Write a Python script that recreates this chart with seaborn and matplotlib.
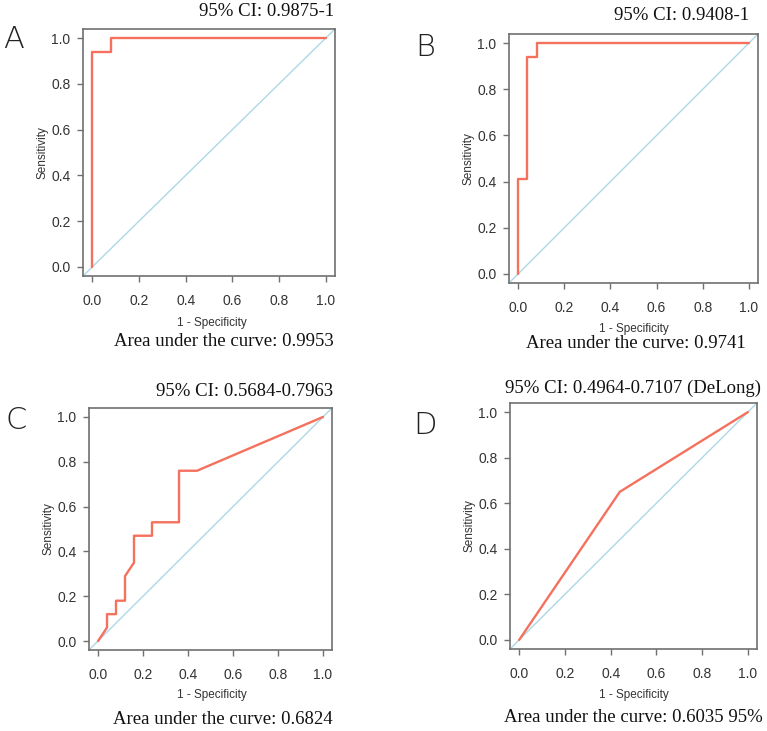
import matplotlib
matplotlib.use("Agg")
import matplotlib.pyplot as plt
import numpy as np
import pandas as pd
import seaborn as sns

sns.set_theme(style="white")
plt.rcParams['font.family'] = ['Liberation Sans', 'DejaVu Sans']

# ROC curves (1 - specificity, sensitivity)
fpr_a = [0.0, 0.0, 0.08, 0.08, 1.0]
tpr_a = [0.0, 0.94, 0.94, 1.0, 1.0]

fpr_b = [0.0, 0.0, 0.04, 0.04, 0.08, 0.08, 1.0]
tpr_b = [0.0, 0.41, 0.41, 0.94, 0.94, 1.0, 1.0]

fpr_c = [0.0, 0.04, 0.04, 0.08, 0.08, 0.12, 0.12, 0.16, 0.16, 0.24, 0.24, 0.36, 0.36, 0.44, 1.0]
tpr_c = [0.0, 0.06, 0.12, 0.12, 0.18, 0.18, 0.29, 0.35, 0.47, 0.47, 0.53, 0.53, 0.76, 0.76, 1.0]

fpr_d = [0.0, 0.44, 1.0]
tpr_d = [0.0, 0.65, 1.0]

letters = ['A', 'B', 'C', 'D']
ci_labels = ['95% CI: 0.9875-1', '95% CI: 0.9408-1', '95% CI: 0.5684-0.7963',
             '95% CI: 0.4964-0.7107 (DeLong)']
auc_labels = ['Area under the curve: 0.9953', 'Area under the curve: 0.9741',
              'Area under the curve: 0.6824', 'Area under the curve: 0.6035 95%']
ticks = [0.0, 0.2, 0.4, 0.6, 0.8, 1.0]

curves = [(fpr_a, tpr_a), (fpr_b, tpr_b), (fpr_c, tpr_c), (fpr_d, tpr_d)]

W, H = 767, 731
fig = plt.figure(figsize=(W / 100, H / 100), dpi=100)

# axes boxes in pixels: left, top, right, bottom
boxes = [(83, 29, 335, 276), (509, 34, 758, 283), (89, 408, 332, 650), (510, 403, 757, 649)]
# text positions in pixels
letter_pos = [(3, 39), (415, 47), (5, 420), (413, 425)]
ci_pos = [(334, 12), (749, 16), (333, 392), (761, 388)]
auc_pos = [(334, 342), (746, 343), (333, 720), (763, 718)]
xlab_pos = [(212, 323), (634, 329), (212, 695), (634, 695)]

red = '#F4715E'
blue = '#ADD8E6'
gray = '#707070'

for i, (fpr, tpr) in enumerate(curves):
    l, t, r, b = boxes[i]
    ax = fig.add_axes([l / W, 1 - b / H, (r - l) / W, (b - t) / H])
    df = pd.DataFrame({'fpr': fpr, 'tpr': tpr})
    ax.plot([-0.04, 1.04], [-0.04, 1.04], color=blue, lw=1.0)
    sns.lineplot(data=df, x='fpr', y='tpr', sort=False, estimator=None,
                 color=red, lw=1.7, ax=ax)
    ax.set_xlim(-0.04, 1.04)
    ax.set_ylim(-0.04, 1.04)
    ax.set_xticks(ticks)
    ax.set_yticks(ticks)
    ax.set_xticklabels([f'{v:.1f}' for v in ticks])
    ax.set_yticklabels([f'{v:.1f}' for v in ticks])
    ax.tick_params(axis='both', which='both', direction='out', length=4, width=1,
                   color=gray, labelsize=10, labelcolor='#333333', pad=5,
                   bottom=True, left=True)
    ax.tick_params(axis='x', pad=9)
    for s in ax.spines.values():
        s.set_color(gray)
        s.set_linewidth(1.2)
    ax.set_xlabel('')
    ax.set_ylabel('Sensitivity', fontsize=8.5, color='#333333', labelpad=2)

    fig.text(letter_pos[i][0] / W, 1 - letter_pos[i][1] / H, letters[i],
             fontsize=22, ha='left', va='center', family='DejaVu Sans',
             fontweight='light', color='#222222')
    fig.text(ci_pos[i][0] / W, 1 - ci_pos[i][1] / H, ci_labels[i],
             fontsize=13.5, ha='right', va='center', family='Liberation Serif', color='#111111')
    fig.text(auc_pos[i][0] / W, 1 - auc_pos[i][1] / H, auc_labels[i],
             fontsize=13.5, ha='right', va='center', family='Liberation Serif', color='#111111')
    fig.text(xlab_pos[i][0] / W, 1 - xlab_pos[i][1] / H, '1 - Specificity',
             fontsize=8.5, ha='center', va='center', color='#333333')

fig.savefig('out.png', dpi=100, facecolor='white')
